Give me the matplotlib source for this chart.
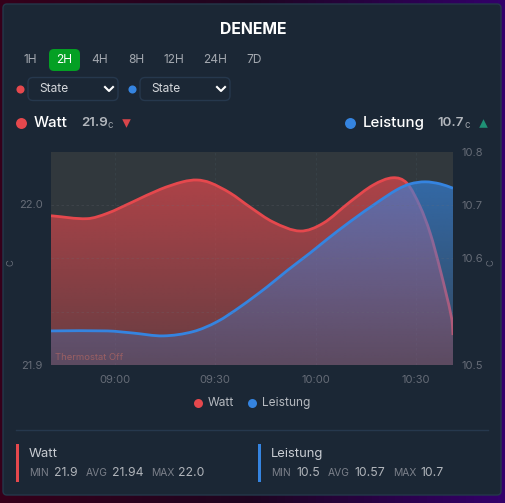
import numpy as np
import matplotlib
matplotlib.use("Agg")
import matplotlib.pyplot as plt
from matplotlib.colors import LinearSegmentedColormap, to_rgb
from matplotlib.patches import FancyBboxPatch, PathPatch, Rectangle
from matplotlib.path import Path

plt.rcParams['font.family'] = ['Inter', 'DejaVu Sans']

# minutes after 09:00
watt_t = [-19, -8.2, -2.2, 5.5, 13.6, 20.4, 24.6, 28.5, 34.5, 40.4, 47.3, 55.4, 62.2,
          70.3, 77.2, 83.1, 87.3, 91.2, 94.2, 97.2, 100.7, 101]
watt_v = [21.9927, 21.9909, 21.9942, 22.0014, 22.0091, 22.0138, 22.0149, 22.0132, 22.0068,
          21.9981, 21.9888, 21.9832, 21.9880, 22.0014, 22.0118, 22.0163, 22.0128, 21.9983,
          21.9818, 21.9590, 21.9279, 21.9186]
leistung_t = [-19, -2.2, 5.5, 14.5, 23.4, 30.6, 37.5, 45.5, 51.5, 58.4, 63.4, 70.3, 78.4,
              84.3, 88.2, 92.7, 97.2, 101]
leistung_v = [10.548, 10.548, 10.545, 10.541, 10.547, 10.561, 10.582, 10.610, 10.633,
              10.658, 10.677, 10.702, 10.729, 10.747, 10.755, 10.758, 10.755, 10.749]

time_ticks = [0, 30, 60, 90]
time_labels = ['09:00', '09:30', '10:00', '10:30']
left_ticks = [21.9, 22.0]
left_labels = ['21.9', '22.0']
right_ticks = [10.5, 10.575, 10.65, 10.725, 10.8]
right_labels = ['10.5', '', '10.6', '10.7', '10.8']
tabs = ['1H', '2H', '4H', '8H', '12H', '24H', '7D']
tab_x = [30, 64, 100, 136.5, 174, 215, 254]

RED = '#e5484d'
BLUE = '#3584e0'
CARD = '#1b2735'
W, H = 506, 503


def curve_path(t, v, base):
    # smooth line through the read points, as bezier segments
    t = np.array(t, float)
    v = np.array(v, float)
    verts = [(t[0], v[0])]
    codes = [Path.MOVETO]
    for i in range(len(t) - 1):
        i0, i3 = max(i - 1, 0), min(i + 2, len(t) - 1)
        h = t[i + 1] - t[i]
        m1 = (v[i + 1] - v[i0]) / (t[i + 1] - t[i0])
        m2 = (v[i3] - v[i]) / (t[i3] - t[i])
        verts += [(t[i] + h / 3, v[i] + m1 * h / 3),
                  (t[i + 1] - h / 3, v[i + 1] - m2 * h / 3),
                  (t[i + 1], v[i + 1])]
        codes += [Path.CURVE4] * 3
    line = Path(verts, codes)
    fill = Path(verts + [(t[-1], base), (t[0], base), (t[0], base)],
                codes + [Path.LINETO, Path.LINETO, Path.CLOSEPOLY])
    return line, fill


def draw_series(ax, t, v, color, a_top, a_bot, lw=2):
    y0, y1 = ax.get_ylim()
    line, fill = curve_path(t, v, y0)
    cmap = LinearSegmentedColormap.from_list(
        'g', [to_rgb(color) + (a_bot,), to_rgb(color) + (a_top,)])
    im = ax.imshow(np.linspace(0, 1, 256).reshape(-1, 1), cmap=cmap, origin='lower',
                   aspect='auto', extent=(-19, 101, y0, y1), zorder=2, interpolation='bilinear')
    im.set_clip_path(PathPatch(fill, transform=ax.transData))
    ax.add_patch(PathPatch(line, fc='none', ec=color, lw=lw, zorder=3, clip_on=True))


fig = plt.figure(figsize=(W / 100, H / 100), dpi=100)

# page background and card
bg = fig.add_axes([0, 0, 1, 1], zorder=0)
bg.set_xlim(0, W)
bg.set_ylim(H, 0)
bg.axis('off')
page = LinearSegmentedColormap.from_list('p', ['#35001a', '#1e0520', '#33006a'])
bg.imshow(np.linspace(0, 1, 64).reshape(1, -1), cmap=page, extent=(0, W, H, 0), aspect='auto')
bg.set_xlim(0, W)
bg.set_ylim(H, 0)
bg.add_patch(FancyBboxPatch((3, 4), 498, 491, boxstyle='round,pad=0,rounding_size=4',
                            fc=CARD, ec='#24384a', lw=1))

# chart
ax = fig.add_axes([51 / W, (H - 365) / H, 402 / W, 213 / H], zorder=1)
ax.set_facecolor('#31383d')
ax.set_xlim(-19, 101)
ax.set_ylim(21.9, 22.0323)
ax2 = ax.twinx()
ax2.set_zorder(2)
ax2.patch.set_visible(False)
ax2.set_ylim(10.5, 10.8)

for a in (ax, ax2):
    for s in a.spines.values():
        s.set_visible(False)
ax.set_xticks(time_ticks)
ax.set_xticklabels(time_labels)
ax.set_yticks(left_ticks)
ax.set_yticklabels(left_labels)
ax2.set_yticks(right_ticks)
ax2.set_yticklabels(right_labels)
ax.tick_params(axis='both', length=0, labelsize=8, labelcolor='#666c77')
ax.tick_params(axis='x', pad=7)
ax.tick_params(axis='y', pad=6)
ax2.tick_params(axis='y', length=0, labelsize=8, labelcolor='#666c77', pad=6)

for y in right_ticks[1:-1]:
    ax2.axhline(y, color='#6a7078', lw=0.6, ls=(0, (3, 3)), alpha=0.25, zorder=4)
for x in time_ticks:
    ax.axvline(x, color='#3f4f55', lw=0.6, ls=(0, (3, 3)), alpha=0.45, zorder=1)

draw_series(ax, watt_t, watt_v, RED, 0.75, 0.3)
draw_series(ax2, leistung_t, leistung_v, BLUE, 0.72, 0.2)
ax2.text(-17.8, 10.511, 'Thermostat Off', color='#9a5f63', fontsize=6.8, va='center', zorder=5)

# everything around the chart, placed in pixels
ui = fig.add_axes([0, 0, 1, 1], zorder=3)
ui.set_xlim(0, W)
ui.set_ylim(H, 0)
ui.axis('off')
ui.patch.set_visible(False)


def label(x, y, s, size=8.6, color='#c8ccd2', **kw):
    kw.setdefault('va', 'center')
    ui.text(x, y, s, fontsize=size, color=color, **kw)


def dot(x, y, color, size=30):
    ui.scatter([x], [y], s=size, color=color, linewidths=0)


label(253, 29, 'DENEME', size=11.4, color='white', weight='bold', ha='center')

ui.add_patch(FancyBboxPatch((49, 49), 31, 22, boxstyle='round,pad=0,rounding_size=5',
                            fc='#04a024', ec='none'))
for name, x in zip(tabs, tab_x):
    label(x, 60, name, size=8.6, color='white' if name == '2H' else '#a3a8af', ha='center')

for dx, c in zip((0, 112), (RED, BLUE)):
    dot(20 + dx, 89, c, 34)
    ui.add_patch(FancyBboxPatch((28 + dx, 77.5), 90, 23, boxstyle='round,pad=0,rounding_size=5',
                                fc='none', ec='#26384d', lw=1))
    label(39 + dx, 89, 'State', size=8.6, color='#d4d7db')
    ui.plot([105 + dx, 109 + dx, 113 + dx], [87, 91, 87], color='white', lw=1.5)

dot(21, 123, RED, 62)
label(34, 123, 'Watt', size=10.8, color='white', weight='medium')
label(81, 123, '21.9', size=9.6, color='#b3b7bd', weight='semibold')
label(108, 125, 'c', size=7, color='#9a9fa6')
ui.scatter([126.5], [122.5], marker='v', s=38, color='#d9454a', linewidths=0)

dot(350, 123, BLUE, 62)
label(363, 123, 'Leistung', size=10.8, color='white', weight='medium')
label(437, 123, '10.7', size=9.6, color='#b3b7bd', weight='semibold')
label(465, 125, 'c', size=7, color='#9a9fa6')
ui.scatter([483], [122.5], marker='^', s=38, color='#1f9175', linewidths=0)

label(11, 263, 'C', size=6.8, color='#666c77', rotation=90, ha='center')
label(491, 263, 'C', size=6.8, color='#666c77', rotation=90, ha='center')

dot(198, 403, RED, 42)
label(208, 403, 'Watt', size=8.6, color='#b6bac0')
dot(252, 403, BLUE, 42)
label(262, 403, 'Leistung', size=8.6, color='#b6bac0')

ui.plot([16, 488], [430, 430], color='#26384d', lw=1)

ui.add_patch(Rectangle((16, 444), 3, 38, fc=RED, ec='none'))
label(29, 454, 'Watt', size=9.4)
for x, s, c, size in [(29, 'MIN', '#7b808a', 7.4), (54, '21.9', '#b0b4ba', 8.8),
                      (86, 'AVG', '#7b808a', 7.4), (112, '21.94', '#b0b4ba', 8.8),
                      (151, 'MAX', '#7b808a', 7.4), (178, '22.0', '#b0b4ba', 8.8)]:
    label(x, 473, s, size=size, color=c)

ui.add_patch(Rectangle((258, 444), 3, 38, fc=BLUE, ec='none'))
label(271, 454, 'Leistung', size=9.4)
for x, s, c, size in [(271, 'MIN', '#7b808a', 7.4), (296, '10.5', '#b0b4ba', 8.8),
                      (328, 'AVG', '#7b808a', 7.4), (354, '10.57', '#b0b4ba', 8.8),
                      (393, 'MAX', '#7b808a', 7.4), (420, '10.7', '#b0b4ba', 8.8)]:
    label(x, 473, s, size=size, color=c)

fig.savefig('out.png', dpi=100)
